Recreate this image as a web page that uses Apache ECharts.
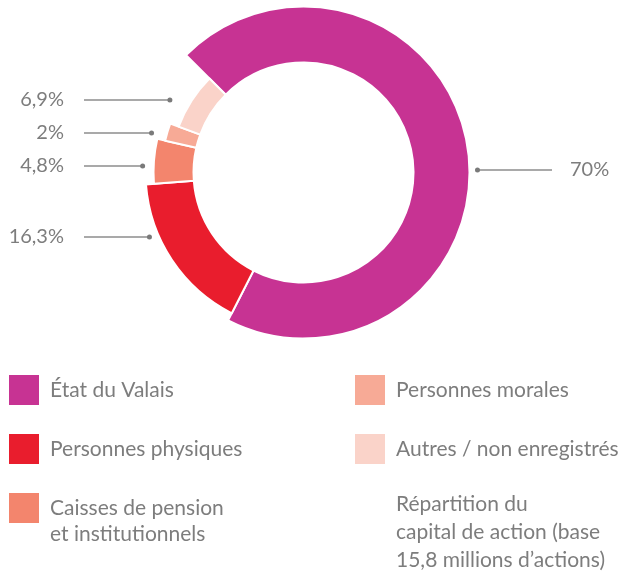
<!DOCTYPE html>
<html>
<head>
<meta charset="utf-8">
<script src="https://cdn.jsdelivr.net/npm/echarts@6/dist/echarts.min.js"></script>
<style>
    html, body { margin: 0; padding: 0; background: #fff; }
    #chart { width: 629px; height: 571px; }
</style>
</head>
<body>
<div id="chart"></div>
<script>
// shareholders and their share of the capital (%)
const categories = ['État du Valais', 'Personnes physiques', 'Caisses de pension\net institutionnels', 'Personnes morales', 'Autres / non enregistrés'];
const shares = [70, 16.3, 4.8, 2, 6.9];
const colors = ['#c73393', '#e91d2d', '#f3856d', '#f7aa96', '#fad3c9'];
const noteText = 'Répartition du\ncapital de action (base\n15,8 millions d’actions)';

// layout
const center = [303.5, 172.5];
const innerRadius = 110;
const outerRadii = [166, 158, 150, 142, 133];
const labelY = [170, 237, 166, 133, 100];
const dotGap = [8, 9, 11, 15, 19];
const textColor = '#7d7d7d';
const fontFamily = 'Lato';

function anchor(i) {
    let side = i === 0 ? 1 : -1;
    let y = labelY[i];
    let dy = y - center[1];
    let r = outerRadii[i] + dotGap[i];
    let x = center[0] + side * Math.sqrt(r * r - dy * dy);
    return {side: side, x: x, y: y};
}

function fmt(v) {
    return String(v).replace('.', ',') + '%';
}

window.onload = initChart;

function initChart() {
    let chart = echarts.init(document.getElementById('chart'));

    let series = shares.map(function (s, i) {
        return {
            type: 'pie',
            name: 'ring' + i,
            center: center,
            radius: [innerRadius, outerRadii[i]],
            startAngle: 135,
            clockwise: true,
            avoidLabelOverlap: false,
            silent: true,
            animation: false,
            data: shares.map(function (v, j) {
                let visible = j === i;
                return {
                    name: categories[j],
                    value: v,
                    itemStyle: {
                        color: colors[j],
                        opacity: visible ? 1 : 0,
                        borderColor: '#fff',
                        borderWidth: visible ? 2 : 0
                    },
                    label: {show: visible},
                    labelLine: {show: visible}
                };
            }),
            label: {
                position: 'outside',
                formatter: function (p) { return fmt(p.value); },
                color: textColor,
                fontFamily: fontFamily,
                fontSize: 20
            },
            labelLine: {
                length: 10,
                length2: 10,
                lineStyle: {color: '#8c8c8c', width: 1.5}
            },
            labelLayout: function (params) {
                let a = anchor(i);
                let end = a.side > 0 ? 552 : 84;
                return {
                    x: a.side > 0 ? 570 : 64,
                    y: a.y,
                    align: a.side > 0 ? 'left' : 'right',
                    verticalAlign: 'middle',
                    labelLinePoints: [[a.x, a.y], [a.x, a.y], [end, a.y]]
                };
            }
        };
    });

    let legendItem = function (j) {
        return {name: categories[j], itemStyle: {color: colors[j], opacity: 1, borderWidth: 0}};
    };
    let makeLegend = function (left, top, idx) {
        return {
            orient: 'vertical',
            left: left,
            top: top,
            icon: 'rect',
            itemWidth: 30,
            itemHeight: 30,
            itemGap: 29,
            padding: 0,
            height: 300,
            selectedMode: false,
            // two-line names hang from the icon: an empty first line keeps the block low
            formatter: function (name) {
                return name.indexOf('\n') >= 0 ? '\n' + name : name;
            },
            textStyle: {
                color: textColor,
                fontFamily: fontFamily,
                fontSize: 21,
                lineHeight: 26,
                padding: [0, 0, 0, 6]
            },
            data: idx.map(legendItem)
        };
    };

    let option = {
        backgroundColor: '#fff',
        title: {
            text: noteText,
            left: 396,
            top: 490,
            padding: 0,
            textStyle: {
                color: textColor,
                fontFamily: fontFamily,
                fontSize: 21,
                fontWeight: 'normal',
                lineHeight: 28
            }
        },
        legend: [
            makeLegend(9, 375, [0, 1]),
            makeLegend(9, 469, [2]),
            makeLegend(355, 375, [3, 4])
        ],
        graphic: shares.map(function (s, i) {
            let a = anchor(i);
            return {
                type: 'circle',
                shape: {cx: a.x, cy: a.y, r: 2.5},
                style: {fill: '#7a7a7a'},
                z: 10
            };
        }),
        series: series
    };
    chart.setOption(option);
}
</script>
</body>
</html>
